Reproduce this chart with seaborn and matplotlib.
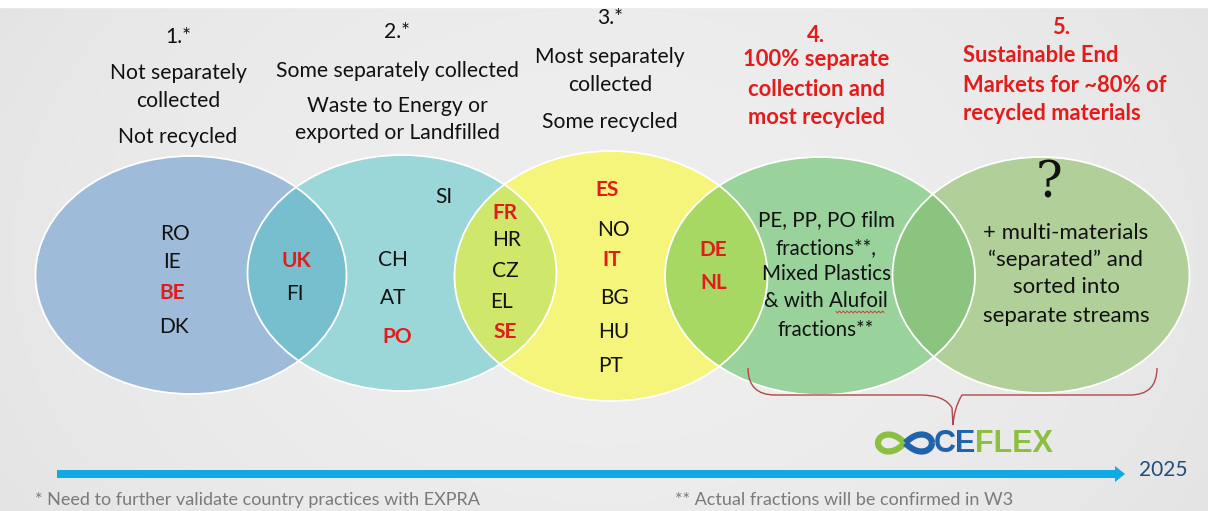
import numpy as np
import matplotlib
matplotlib.use("Agg")
import matplotlib.pyplot as plt
from matplotlib.patches import Ellipse, PathPatch, FancyArrow
from matplotlib.path import Path
import seaborn as sns

# stage headers
stage_numbers = ['1.*', '2.*', '3.*', '4.', '5.']
stage_lines = [
    ['Not separately', 'collected', 'Not recycled'],
    ['Some separately collected', 'Waste to Energy or', 'exported or Landfilled'],
    ['Most separately', 'collected', 'Some recycled'],
    ['100% separate', 'collection and', 'most recycled'],
    ['Sustainable End', 'Markets for ~80% of', 'recycled materials'],
]

# countries per region (circle or overlap)
countries_1 = ['RO', 'IE', 'BE', 'DK']
countries_12 = ['UK', 'FI']
countries_2 = ['SI', 'CH', 'AT', 'PO']
countries_23 = ['FR', 'HR', 'CZ', 'EL', 'SE']
countries_3 = ['ES', 'NO', 'IT', 'BG', 'HU', 'PT']
countries_34 = ['DE', 'NL']
red_countries = ['BE', 'UK', 'PO', 'FR', 'SE', 'ES', 'IT', 'DE', 'NL']

materials_4 = ['PE, PP, PO film', 'fractions**,', 'Mixed Plastics', '& with Alufoil', 'fractions**']
materials_5 = ['+ multi-materials', '\u201cseparated\u201d and', 'sorted into', 'separate streams']

footnote_1 = '* Need to further validate country practices with EXPRA'
footnote_2 = '** Actual fractions will be confirmed in W3'
end_year = '2025'

# ---- layout (pixel coords, y down) ----
W, H = 1208, 511
ell_center = [(191, 275), (402, 273), (611, 276), (820, 276), (1041, 275)]
ell_size = [(311, 238), (309, 236), (313, 250), (310, 238), (297, 236)]
ell_color = ['#9ebcda', '#9bd6d8', '#f4f57a', '#99d39b', '#b1cf99']
overlap_color = ['#77bfcf', '#cfe86c', '#a6d863', '#8ac47e']

red = '#e31b1b'
black = '#111111'

sns.set_theme(style="white")
plt.rcParams['font.family'] = ['Lato', 'DejaVu Sans']

fig = plt.figure(figsize=(12.08, 5.11), dpi=100)
ax = fig.add_axes([0, 0, 1, 1])
ax.set_xlim(0, W)
ax.set_ylim(H, 0)
ax.axis('off')

# background
xx = np.linspace(-1, 1, 300)
yy = np.linspace(-1, 1, 120)
X, Y = np.meshgrid(xx, yy)
bg = 0.935 - 0.03 * X**2 - 0.01 * Y**2
ax.imshow(np.dstack([bg, bg, bg]), extent=[0, W, H, 0], aspect='auto', zorder=0,
          interpolation='bilinear')
ax.axhspan(0, 7, color='white', zorder=0.5)

# ellipses
patches = []
for c, s, col in zip(ell_center, ell_size, ell_color):
    e = Ellipse(c, s[0], s[1], facecolor=col, edgecolor='none', zorder=1)
    ax.add_patch(e)
    patches.append(e)
for i, col in enumerate(overlap_color):
    c, s = ell_center[i + 1], ell_size[i + 1]
    o = Ellipse(c, s[0], s[1], facecolor=col, edgecolor='none', zorder=2)
    ax.add_patch(o)
    o.set_clip_path(patches[i])
for c, s in zip(ell_center, ell_size):
    ax.add_patch(Ellipse(c, s[0], s[1], facecolor='none', edgecolor='white', lw=1.3, zorder=3))

# stage headers
num_pos = [(178, 37), (397, 32), (610, 18), (816, 35), (1061, 27)]
line_y = [[73, 101, 137], [71, 106, 133], [57, 85, 122], [60, 89, 118], [56, 85, 113]]
for k in range(5):
    if k >= 3:
        col, fw, fs = red, 'bold', 15.8
    else:
        col, fw, fs = black, 'normal', 15.2
    ax.text(num_pos[k][0], num_pos[k][1], stage_numbers[k], ha='center', va='center',
            fontsize=fs, color=col, fontweight=fw, zorder=5)
    for line, y in zip(stage_lines[k], line_y[k]):
        if k == 4:
            ax.text(963, y, line, ha='left', va='center', fontsize=fs, color=col,
                    fontweight=fw, zorder=5)
        else:
            ax.text(num_pos[k][0], y, line, ha='center', va='center',
                    fontsize=fs, color=col, fontweight=fw, zorder=5)

# countries
country_pos = {
    'RO': (175, 234), 'IE': (172, 262), 'BE': (172, 293), 'DK': (174, 327),
    'UK': (296, 261), 'FI': (295, 294),
    'SI': (444, 197), 'CH': (393, 260), 'AT': (393, 298), 'PO': (397, 337),
    'FR': (505, 213), 'HR': (507, 240), 'CZ': (505, 271), 'EL': (502, 302), 'SE': (505, 332),
    'ES': (607, 190), 'NO': (613, 230), 'IT': (612, 260), 'BG': (614, 298), 'HU': (614, 332),
    'PT': (610, 366),
    'DE': (713, 250), 'NL': (714, 283),
}
for group in [countries_1, countries_12, countries_2, countries_23, countries_3, countries_34]:
    for code in group:
        x, y = country_pos[code]
        if code in red_countries:
            ax.text(x, y, code, ha='center', va='center', fontsize=15, color=red,
                    fontweight='bold', zorder=5)
        else:
            ax.text(x, y, code, ha='center', va='center', fontsize=15, color=black, zorder=5)

# circle 4 and 5 contents
for line, y in zip(materials_4, [220, 248, 274, 301, 330]):
    ax.text(826, y, line, ha='center', va='center', fontsize=14.8, color=black, zorder=5)
# wavy underline under "Alufoil"
wx = np.linspace(836, 884, 48)
ax.plot(wx, 312 + 1.0 * np.sin(wx * 1.6), color='#d04040', lw=0.7, zorder=5)

ax.text(1049, 184, '?', ha='center', va='center', fontsize=36, family='DejaVu Serif',
        color=black, zorder=5)
for line, y in zip(materials_5, [233, 260, 287, 316]):
    ax.text(1066, y, line, ha='center', va='center', fontsize=16, color=black, zorder=5)

# curly brace under circles 4 and 5
brace = Path(
    [(748, 368), (748, 395), (775, 395), (800, 395),
     (920, 395), (945, 395), (952, 408), (953, 425),
     (954, 408), (962, 395), (985, 395),
     (1130, 395), (1157, 395), (1157, 368)],
    [Path.MOVETO, Path.CURVE3, Path.CURVE3, Path.LINETO,
     Path.LINETO, Path.CURVE3, Path.CURVE3, Path.LINETO,
     Path.CURVE3, Path.CURVE3, Path.LINETO,
     Path.LINETO, Path.CURVE3, Path.CURVE3],
)
ax.add_patch(PathPatch(brace, facecolor='none', edgecolor='#b04848', lw=1.0, zorder=4))

# CEFLEX logo
t = np.linspace(0, 2 * np.pi, 200)
lx = 905 + 27 * np.cos(t) / (1 + np.sin(t) ** 2)
ly = 443 + 24 * np.sin(t) * np.cos(t) / (1 + np.sin(t) ** 2)
half = np.cos(t) < 0
ax.plot(np.where(half, lx, np.nan), ly, color='#8cbf3f', lw=4.5, zorder=5, solid_capstyle='butt')
ax.plot(np.where(~half, lx, np.nan), ly, color='#1f63ad', lw=4.5, zorder=5, solid_capstyle='butt')
ce = ax.text(934, 444, 'CE', ha='left', va='center', fontsize=22, fontweight='bold',
             family='Liberation Sans', color='#1f63ad', zorder=5)
fig.canvas.draw()
bb = ce.get_window_extent(renderer=fig.canvas.get_renderer())
ce_right = ax.transData.inverted().transform((bb.x1, bb.y0))[0]
ax.text(ce_right - 1, 444, 'FLEX', ha='left', va='center', fontsize=22, fontweight='bold',
        family='Liberation Sans', color='#8cbf3f', zorder=5)

# timeline arrow
ax.add_patch(FancyArrow(57, 474, 1068, 0, width=8, head_width=16, head_length=10,
                        length_includes_head=True, color='#10a8e5', lw=0, zorder=4))
ax.text(1163, 470, end_year, ha='center', va='center', fontsize=15, color='#1f4e79', zorder=5)

# footnotes
ax.text(35, 500, footnote_1, ha='left', va='center', fontsize=13, color='#7a7a7a', zorder=5)
ax.text(675, 500, footnote_2, ha='left', va='center', fontsize=13, color='#7a7a7a', zorder=5)

fig.savefig('out.png', dpi=100)
